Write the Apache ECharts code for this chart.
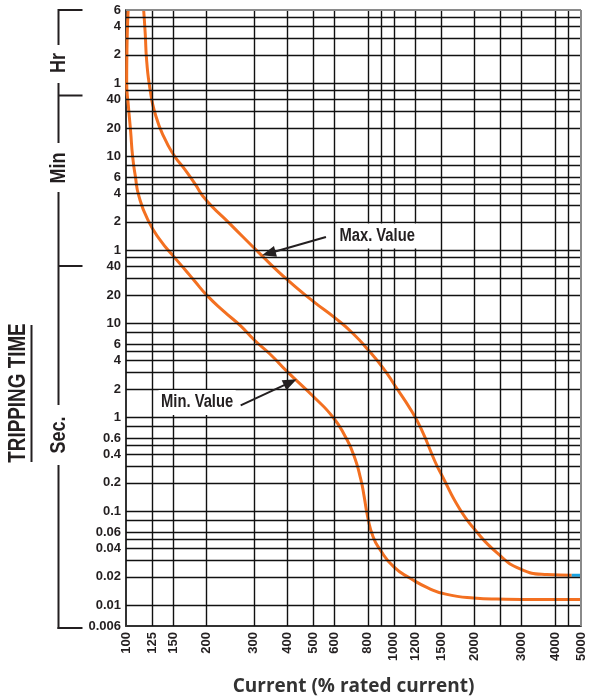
<!DOCTYPE html>
<html>
<head>
<meta charset="utf-8">
<script src="https://cdn.jsdelivr.net/npm/echarts@6/dist/echarts.min.js"></script>
<style>
  html, body { margin: 0; padding: 0; background: #fff; }
  #chart { width: 589px; height: 697px; }
</style>
</head>
<body>
<div id="chart"></div>
<script>
// Tripping curve: current in % of rated current, tripping time in seconds.
const minValueCurve = [
  [101.9, 21600], [100.8, 7870], [100.6, 3600], [102, 2100], [104.1, 1090],
  [105.8, 604], [108.3, 372], [111.8, 224], [121.2, 123], [135.5, 73.9], [150, 52.2],
  [166.8, 36.7], [180.7, 28], [201, 19.7], [232, 13.4], [268, 9.37], [300, 6.72],
  [347, 4.63], [400, 3.06], [503, 1.64], [593, 1.0], [658, 0.627], [709, 0.394],
  [753, 0.218], [775, 0.143], [799, 0.0867], [836, 0.0539], [887, 0.0393],
  [1000, 0.0255], [1160, 0.0191], [1346, 0.0152], [1563, 0.0131], [1982, 0.0119],
  [2424, 0.0116], [3500, 0.0115], [5000, 0.0115]
];
const maxValueCurve = [
  [116.4, 21600], [118, 12000], [119.5, 6115], [123.1, 3030], [128.6, 1690],
  [138.5, 962], [151.9, 600], [165.5, 437], [180.7, 307], [198, 209], [245.5, 113],
  [318, 54.2], [400, 29.1], [503, 16.9], [603, 11.4], [699, 7.93], [811, 5.03],
  [914, 3.32], [1012, 2.15], [1162, 1.18], [1268, 0.743], [1429, 0.332],
  [1516, 0.237], [1760, 0.106], [2012, 0.0632], [2425, 0.0362], [2962, 0.0244],
  [3724, 0.0212], [4617, 0.0208]
];
const maxValueTail = [[4617, 0.0208], [5000, 0.0208]];

// Axis labels and grid rulings
const currentLabels = [100, 125, 150, 200, 300, 400, 500, 600, 800, 1000, 1200, 1500, 2000, 3000, 4000, 5000];
const currentRulings = [125, 150, 200, 300, 400, 500, 600, 800, 900, 1000, 1200, 1500, 2000, 2500, 3000, 4000, 4500];
const timeLabels = [0.006, 0.01, 0.02, 0.04, 0.06, 0.1, 0.2, 0.4, 0.6, 1, 2, 4, 6, 10, 20, 40,
  60, 120, 240, 360, 600, 1200, 2400, 3600, 7200, 14400, 21600];
const timeRulings = [0.01, 0.02, 0.03, 0.04, 0.05, 0.06, 0.08, 0.1, 0.2, 0.3, 0.4, 0.5, 0.6, 0.8,
  1, 2, 3, 4, 5, 6, 8, 10, 20, 30, 40, 50, 60, 120, 180, 240, 300, 360, 480, 600,
  1200, 1800, 2400, 3000, 3600, 7200, 10800, 14400, 18000];

// Arrow annotations: [tail, tip] in data units
const maxArrow = [[558, 83], [322, 53]];
const minArrow = [[268, 1.335], [434, 2.53]];

const ink = '#231f20';
const orange = '#f37021';
const sans = "'Liberation Sans', Arial, sans-serif";
const condense = 0.82;

function timeText(v) {
  const n = v >= 3600 ? v / 3600 : (v >= 60 ? v / 60 : v);
  return String(+n.toPrecision(6));
}

const rulingStyle = { color: '#111', width: 1.4, type: 'solid' };
const rulings = []
  .concat(currentRulings.map(v => ({ xAxis: v })))
  .concat(timeRulings.map(v => ({ yAxis: v })))
  .concat([
    { xAxis: 5000, lineStyle: { color: '#8a8a8a', width: 2 } },
    { yAxis: 21600, lineStyle: { color: '#8a8a8a', width: 2 } }
  ]);

const chart = echarts.init(document.getElementById('chart'));
chart.setOption({
  animation: false,
  backgroundColor: '#fff',
  grid: { left: 126, right: 8, top: 10, bottom: 71, containLabel: false, outerBoundsMode: 'none' },
  xAxis: {
    type: 'log', min: 100, max: 5000,
    axisLine: { show: true, onZero: false, lineStyle: { color: '#333', width: 2 } },
    axisTick: { show: false },
    splitLine: { show: false },
    axisLabel: {
      customValues: currentLabels, rotate: 90, margin: 6, formatter: v => String(v),
      fontFamily: sans, fontWeight: 'bold', fontSize: 13, color: ink
    },
    name: 'Current (% rated current)', nameLocation: 'middle', nameGap: 51,
    nameTextStyle: { fontFamily: "'Open Sans', sans-serif", fontWeight: 'bold', fontSize: 19, color: '#333' }
  },
  yAxis: {
    type: 'log', min: 0.006, max: 21600,
    axisLine: { show: true, onZero: false, lineStyle: { color: '#333', width: 2 } },
    axisTick: { show: false },
    splitLine: { show: false },
    axisLabel: {
      customValues: timeLabels, formatter: timeText, margin: 5,
      fontFamily: sans, fontWeight: 'bold', fontSize: 13, color: ink
    }
  },
  series: [
    {
      type: 'line', data: [], silent: true, z: 1,
      markLine: {
        silent: true, symbol: ['none', 'none'], label: { show: false },
        lineStyle: rulingStyle, animation: false, data: rulings
      }
    },
    {
      name: 'Min. Value', type: 'line', data: minValueCurve, smooth: 0.55, symbol: 'none', z: 3,
      lineStyle: { color: orange, width: 3 }
    },
    {
      name: 'Max. Value', type: 'line', data: maxValueCurve, smooth: 0.55, symbol: 'none', z: 3,
      lineStyle: { color: orange, width: 3 }
    },
    {
      type: 'line', data: maxValueTail, symbol: 'none', z: 3,
      lineStyle: { color: '#1aa3e0', width: 3 }
    }
  ]
});

// Annotation arrows, labels and the time-unit brackets on the left
const toPx = v => chart.convertToPixel({ gridIndex: 0 }, v);

function arrow(tailData, tipData) {
  const a = toPx(tailData), b = toPx(tipData);
  const dx = b[0] - a[0], dy = b[1] - a[1];
  const len = Math.hypot(dx, dy), ux = dx / len, uy = dy / len;
  const L = 14, W = 5.5;
  const bx = b[0] - ux * L, by = b[1] - uy * L;
  return [
    { type: 'line', shape: { x1: a[0], y1: a[1], x2: bx + ux * 2, y2: by + uy * 2 }, style: { stroke: ink, lineWidth: 2 }, z: 10 },
    { type: 'polygon', shape: { points: [[b[0], b[1]], [bx - uy * W, by + ux * W], [bx + uy * W, by - ux * W]] }, style: { fill: ink }, z: 10 }
  ];
}

const maxTail = toPx(maxArrow[0]);
const minTail = toPx(minArrow[0]);
const noteStyle = { fontFamily: sans, fontWeight: 'bold', fontSize: 18, fill: ink, backgroundColor: '#fff', padding: [4, 3, 3, 3], verticalAlign: 'middle' };

const bx = 58.5, tickEnd = 82.5;
const seg = (x1, y1, x2, y2) => ({ type: 'line', shape: { x1, y1, x2, y2 }, style: { stroke: ink, lineWidth: 2 } });
const rotText = (text, x, y, size) => ({
  type: 'text', x, y, rotation: Math.PI / 2, scaleX: condense,
  style: { text, align: 'center', verticalAlign: 'middle', fontFamily: sans, fontWeight: 'bold', fontSize: size, fill: ink }
});

const elements = []
  .concat(arrow(maxArrow[0], maxArrow[1]))
  .concat(arrow(minArrow[0], minArrow[1]))
  .concat([
    {
      type: 'text', x: maxTail[0] + 11, y: maxTail[1] - 1, z: 9, scaleX: condense,
      style: Object.assign({ text: 'Max. Value', align: 'left' }, noteStyle)
    },
    {
      type: 'text', x: minTail[0] - 5, y: minTail[1] - 3, z: 9, scaleX: condense,
      style: Object.assign({ text: 'Min. Value', align: 'right' }, noteStyle)
    },
    // Hr bracket
    seg(bx, 10, tickEnd, 10), seg(bx, 9, bx, 45), rotText('Hr', bx, 63, 22), seg(bx, 83, bx, 96),
    seg(bx, 95.5, tickEnd, 95.5),
    // Min bracket
    seg(bx, 96, bx, 143), rotText('Min', bx, 168, 22), seg(bx, 192, bx, 266),
    seg(bx, 266, tickEnd, 266),
    // Sec bracket
    seg(bx, 266, bx, 405), rotText('Sec.', bx, 435, 22), seg(bx, 465, bx, 629),
    seg(bx - 1, 628, tickEnd, 628),
    // Axis title with underline
    rotText('TRIPPING TIME', 19, 393, 23),
    seg(31.5, 325, 31.5, 462)
  ]);

chart.setOption({ graphic: { elements } });
</script>
</body>
</html>
